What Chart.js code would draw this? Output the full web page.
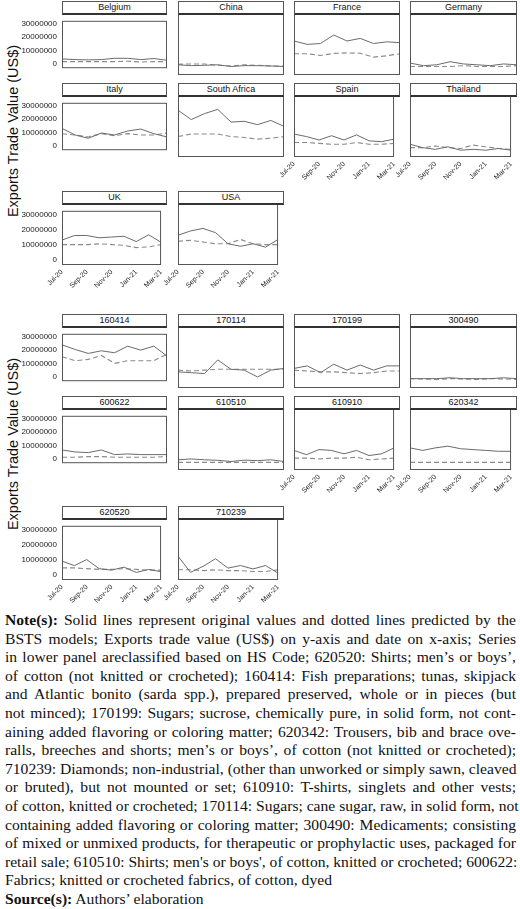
<!DOCTYPE html>
<html><head><meta charset="utf-8">
<script src="https://cdn.jsdelivr.net/npm/chart.js@4"></script>
<style>
body{margin:0;width:520px;height:909px;position:relative;background:#fff;overflow:hidden;font-family:"Liberation Sans",Arial,sans-serif}
.strip{position:absolute;box-sizing:border-box;border:1px solid #555;border-bottom:2px solid #333;background:#fff;font-size:9px;text-align:center;line-height:11px;color:#111}
canvas{position:absolute}
.ytitle{position:absolute;font-size:14.5px;transform:translate(-50%,-50%) rotate(-90deg);white-space:nowrap;color:#111}
#note{position:absolute;left:5px;top:611px;width:511px;font-family:"Liberation Serif","Times New Roman",serif;font-size:15.6px;line-height:18.6px;color:#111}
#note div{text-align:justify;text-align-last:justify;white-space:nowrap}
#note div.l{text-align-last:left}
</style></head><body>
<div class="ytitle" style="left:13px;top:131px">Exports Trade Value (US$)</div>
<div class="ytitle" style="left:13px;top:444px">Exports Trade Value (US$)</div>
<div id="note">
<div><b>Note(s):</b> Solid lines represent original values and dotted lines predicted by the</div>
<div>BSTS models; Exports trade value (US$) on y-axis and date on x-axis; Series</div>
<div>in lower panel areclassified based on HS Code; 620520: Shirts; men’s or boys’,</div>
<div>of cotton (not knitted or crocheted); 160414: Fish preparations; tunas, skipjack</div>
<div>and Atlantic bonito (sarda spp.), prepared preserved, whole or in pieces (but</div>
<div>not minced); 170199: Sugars; sucrose, chemically pure, in solid form, not cont-</div>
<div>aining added flavoring or coloring matter; 620342: Trousers, bib and brace ove-</div>
<div>ralls, breeches and shorts; men’s or boys’, of cotton (not knitted or crocheted);</div>
<div>710239: Diamonds; non-industrial, (other than unworked or simply sawn, cleaved</div>
<div>or bruted), but not mounted or set; 610910: T-shirts, singlets and other vests;</div>
<div>of cotton, knitted or crocheted; 170114: Sugars; cane sugar, raw, in solid form, not</div>
<div>containing added flavoring or coloring matter; 300490: Medicaments; consisting</div>
<div>of mixed or unmixed products, for therapeutic or prophylactic uses, packaged for</div>
<div>retail sale; 610510: Shirts; men's or boys', of cotton, knitted or crocheted; 600622:</div>
<div class="l">Fabrics; knitted or crocheted fabrics, of cotton, dyed</div>
<div class="l"><b>Source(s):</b> Authors’ elaboration</div>
</div>
<script>
const months = ["Jul-20","Aug-20","Sep-20","Oct-20","Nov-20","Dec-20","Jan-21","Feb-21","Mar-21"];
const yTicks = [0,10000000,20000000,30000000];
// values in millions US$
const panelNames = ["Belgium","China","France","Germany","Italy","South Africa","Spain","Thailand","UK","USA",
 "160414","170114","170199","300490","600622","610510","610910","620342","620520","710239"];
const original = [
 [3.5,3,2.8,3,4,4,3,3.8,2.5],
 [2.5,2,2.2,2.5,1.5,2,2,1.8,1.5],
 [16.5,14.5,15,20,16.5,18,15,16,15.5],
 [3.5,2,2.5,4.3,3,2.5,2,3,2.5],
 [13,8,5.5,9.5,8,11,12.5,9,6.5],
 [24,18.5,22,24.5,17,17.5,15.5,18,14.5],
 [10,8.5,6.5,9,6.5,9.5,6,5.5,7],
 [4,2,1,2.5,0.5,1,0.5,1.5,0.5],
 [13,16,16,14.5,15,15.5,12,16.5,11.5],
 [14,16.5,18,15.5,9,7.5,9,7,11.5],
 [24,20.5,17.5,19.5,18,23,20,23,15.5],
 [6,5.5,5,13,7.5,7,3,7,8],
 [8,9.5,5.5,10.5,7,10,7,9.5,9.5],
 [2,2,2,2.5,2,2,2,2.5,2],
 [6.5,5,4.5,6.5,3,3.5,3,3,3],
 [2.5,3,2.5,2.2,1.5,2.3,2,2.5,1.5],
 [8,5.5,8.5,8,6,8,5,6,9.5],
 [9.5,8,9.5,10.5,9,8.5,8,7.5,7.5],
 [9,6,10,4,3,5,1.5,3.5,2],
 [10.5,1,4.5,9,3.5,5,3,5,0.5]
];
const predicted = [
 [1.5,1.5,1.5,1.5,1.5,1.8,1.2,1.5,1.5],
 [2.8,3,3,2.2,1.8,2.5,2.2,1.8,1.8],
 [9,9,8,9.2,9.5,9.3,7,7.8,9],
 [1.5,1.5,1.5,1.5,2,1.5,1.5,1.5,2],
 [9,8,6.5,9,7.5,9,8,8,9.5],
 [8.5,10,10,10,8.5,8,7,7.5,8.5],
 [5,5,4.5,4,4,5,4,4,4.5],
 [2,2,3,2,1.5,3.5,2.5,1.5,1],
 [10,10,10,10.5,10,9.5,8,8.5,10],
 [10.5,11,10,9,9,11.5,9,8.5,8.5],
 [15,12,13,16,10,12,12,12,17],
 [7,6.5,7,7.5,7.5,7.5,7.5,7.5,7.5],
 [7,6.5,6,6,5.5,5,5.5,6.5,6.5],
 [2,1.8,1.5,2,1.8,1.5,2,1.8,1.5],
 [1,1,1.5,1.5,1,1,1,1,1.5],
 [1,1,1,1,1,1,1,1,1],
 [3.5,3.5,3,3.5,3.5,4,2.5,3,3.5],
 [1,1,1,1,1,1,1,1,1],
 [4.5,4.5,4,3.5,3.5,4,3.5,3,3],
 [2.5,2.5,2,2.5,2,2,1.5,1.5,2.5]
];
const colL=[62,178,294,410], colR=[167,284,400,517];
const rowTop=[14,96,204,327,409,519];
const plotH=61, stripH=13, xAxH=32, yAxW=62;
const layout=[[0,0,0],[0,1,0],[0,2,0],[0,3,0],[1,0,0],[1,1,0],[1,2,1],[1,3,1],[2,0,1],[2,1,1],
 [3,0,0],[3,1,0],[3,2,0],[3,3,0],[4,0,0],[4,1,0],[4,2,1],[4,3,1],[5,0,1],[5,1,1]];
const boxPlugin={id:'box',afterDraw(c){const a=c.chartArea,x=c.ctx;x.save();x.strokeStyle='#555';x.lineWidth=1;x.strokeRect(a.left+0.5,a.top+0.5,a.right-a.left-1,a.bottom-a.top-1);x.restore();}};
panelNames.forEach((name,i)=>{
 const [r,c,sx]=layout[i];
 const first=c===0;
 const padL=(sx&&!first)?14:0;
 const left=first?0:colL[c]-padL;
 const width=colR[c]-left;
 const h=plotH+(sx?xAxH:0);
 const s=document.createElement('div');s.className='strip';
 s.style.left=colL[c]+'px';s.style.top=(rowTop[r]-stripH)+'px';s.style.width=(colR[c]-colL[c])+'px';s.style.height=(stripH+1)+'px';
 s.textContent=name;
 const wrap=document.createElement('div');wrap.style.cssText=`position:absolute;left:${left}px;top:${rowTop[r]}px;width:${width}px;height:${h}px`;
 const cv=document.createElement('canvas');
 wrap.appendChild(cv);document.body.appendChild(wrap);document.body.appendChild(s);
 new Chart(cv,{type:'line',
  data:{labels:months,datasets:[
   {data:original[i].map(v=>v*1e6),borderColor:'#6b6b6b',borderWidth:1,pointRadius:0,tension:0},
   {data:predicted[i].map(v=>v*1e6),borderColor:'#8a8a8a',borderWidth:1.1,borderDash:[5,3],pointRadius:0,tension:0}]},
  options:{responsive:true,maintainAspectRatio:false,animation:false,
   layout:{padding:{left:padL,right:0,top:0,bottom:0}},
   plugins:{legend:{display:false},tooltip:{enabled:false}},
   scales:{
    x:{offset:false,display:!!sx,grid:{display:false,tickLength:3,tickColor:'#555'},border:{display:false},
     ticks:{autoSkip:false,maxRotation:45,minRotation:45,color:'#222',font:{size:7,family:'Liberation Sans'},padding:0,
      callback:(v,k)=>k%2===0?months[k]:''},
     afterFit(a){a.height=sx?xAxH:0;}},
    y:{display:first,min:-3.5e6,max:32.35e6,grid:{display:false,tickLength:3,tickColor:'#555'},border:{display:false},
     afterBuildTicks(a){a.ticks=yTicks.map(v=>({value:v}));},
     ticks:{color:'#222',font:{size:8,family:'Liberation Sans'},padding:2,callback:v=>String(v)},
     afterFit(a){a.width=first?yAxW:0;}}
   }},
  plugins:[boxPlugin]});
});
</script>
</body></html>
